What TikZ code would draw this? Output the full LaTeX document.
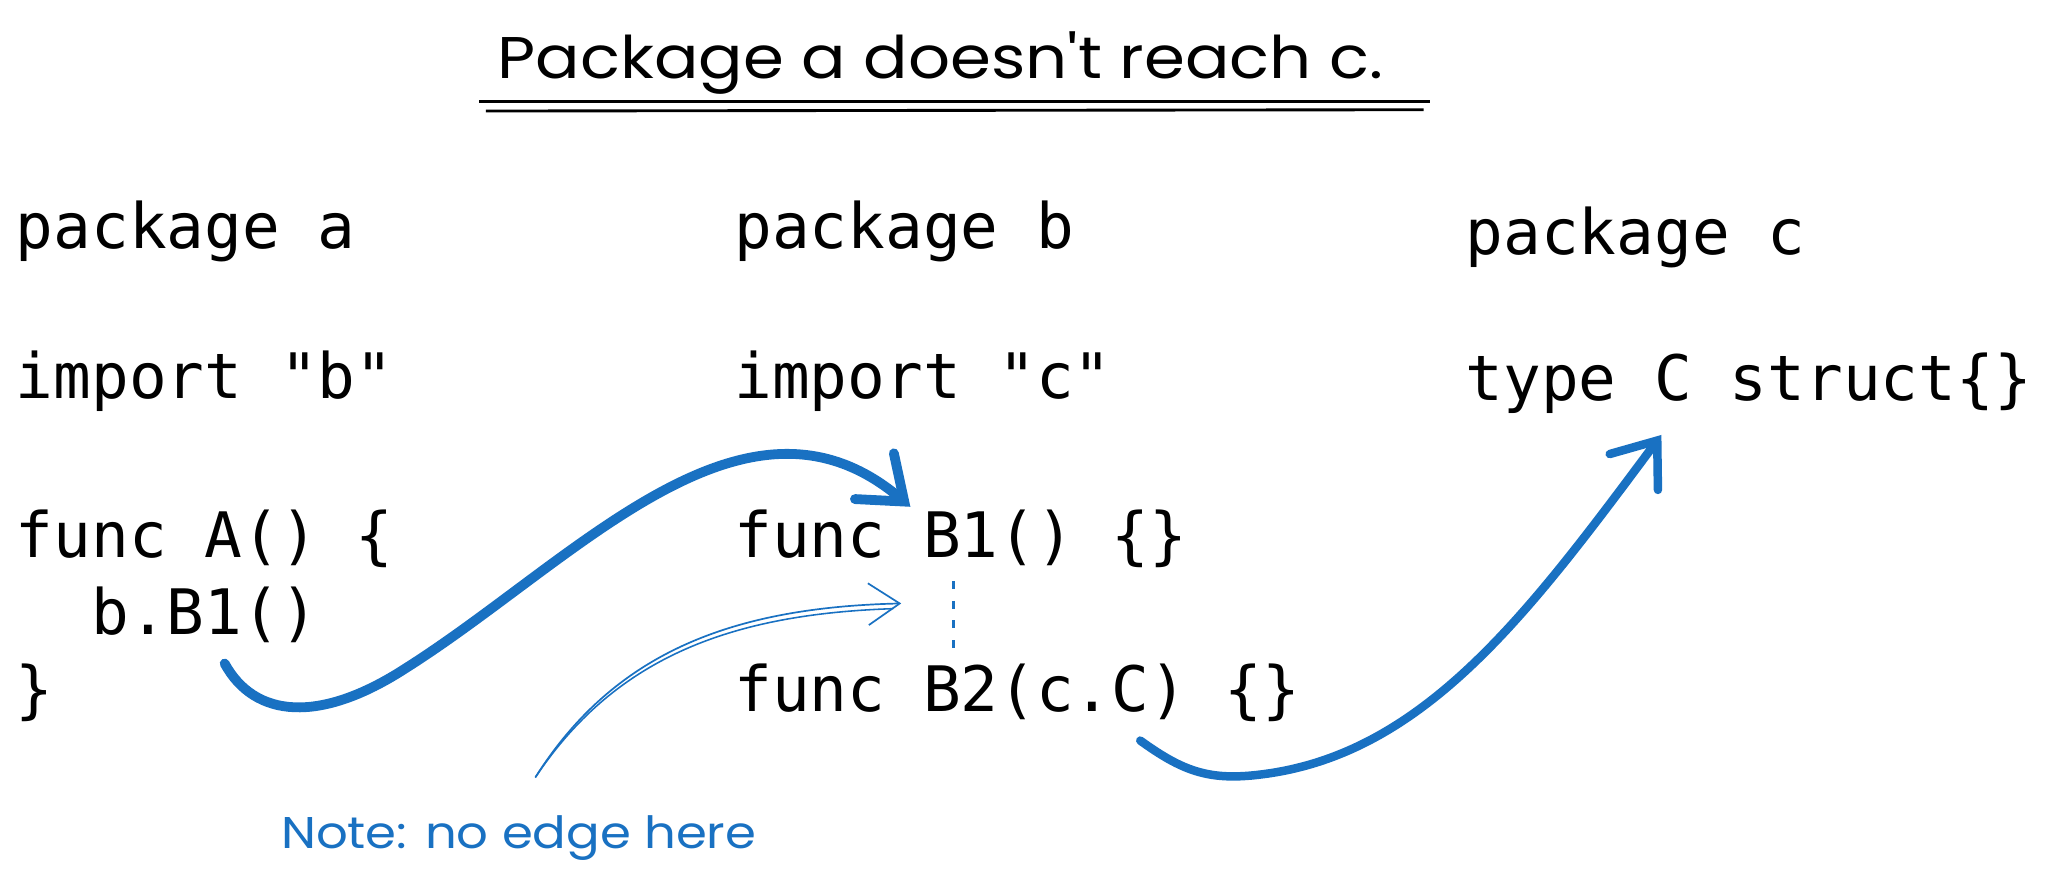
\documentclass[tikz,border=0pt]{standalone}
\usepackage{fontspec}
\setmainfont{Poppins}
\newfontfamily\codefont{DejaVu Sans Mono}
\newfontfamily\handfont{Poppins}
\usetikzlibrary{arrows.meta}
\definecolor{exblue}{RGB}{25,113,194}
\tikzset{
  code/.style={anchor=base west, inner sep=0pt, font=\codefont\fontsize{48}{52}\selectfont},
  hand/.style={inner sep=0pt, font=\handfont\fontsize{45}{50}\selectfont},
  callarrow/.style={draw=exblue, line width=7.5pt, line cap=round, line join=round,
    -{Straight Barb[length=30pt,width=46pt,line cap=round]}},
  thinarrow/.style={draw=exblue, line width=1.3pt, line cap=round,
    -{Straight Barb[length=24pt,width=32pt]}},
}
\begin{document}
\begin{tikzpicture}[x=1pt,y=-1pt]
\useasboundingbox (0,0) rectangle (1568,672);
\fill[white] (0,0) rectangle (1568,672);

% title
\node[hand, anchor=base] (title) at (720,60) {\scalebox{1.12}[1]{Package a doesn't reach c.}};
\coordinate (u1a) at (367,78); \coordinate (u1b) at (1095,78);
\coordinate (u2a) at (372,85); \coordinate (u2b) at (1090,84);
\draw[line width=2.2pt] (u1a) -- (u1b);
\draw[line width=2.2pt] (u2a) -- (u2b);

% package a
\node[code] (pa) at (12,190) {package a};
\node[code] (ia) at (12,305) {import "b"};
\node[code] (fa) at (12,427) {func A() \{};
\node[code] (ca) at (12,486) {\ \ b.B1()};
\node[code] (ea) at (12,545) {\}};

% package b
\node[code] (pb) at (562,190) {package b};
\node[code] (ib) at (562,305) {import "c"};
\node[code] (fb1) at (562,427) {func B1() \{\}};
\node[code] (fb2) at (562,545) {func B2(c.C) \{\}};

% package c
\node[code] (pc) at (1122,195) {package c};
\node[code] (tc) at (1122,307) {type C struct\{\}};

% note
\node[hand, anchor=base west, text=exblue, font=\handfont\fontsize{34}{40}\selectfont] (note) at (215,650) {\scalebox{1.12}[1]{Note: no edge here}};

% connectors
\coordinate (s1) at (172,508);
\coordinate (t1) at (697,388);
\draw[callarrow] (s1) .. controls (195,550) and (245,554) .. (310,512)
  .. controls (440,430) and (570,280) .. (t1);

\coordinate (s2) at (410,595);
\coordinate (t2) at (690,462);
\draw[thinarrow] (s2) .. controls (470,500) and (560,465) .. (t2);
\draw[draw=exblue, line width=1.2pt] (s2) .. controls (472,502) and (562,470) .. (684,466);

\coordinate (s3) at (873,567);
\coordinate (t3) at (1272,333);
\draw[callarrow, line width=6.5pt] (s3) .. controls (905,590) and (925,598) .. (965,593)
  .. controls (1090,578) and (1170,470) .. (t3);

% dotted link between B1 and B2
\coordinate (d1) at (730,445);
\coordinate (d2) at (730,497);
\draw[exblue, line width=2pt, dash pattern=on 6pt off 9pt] (d1) -- (d2);
\end{tikzpicture}
\end{document}
